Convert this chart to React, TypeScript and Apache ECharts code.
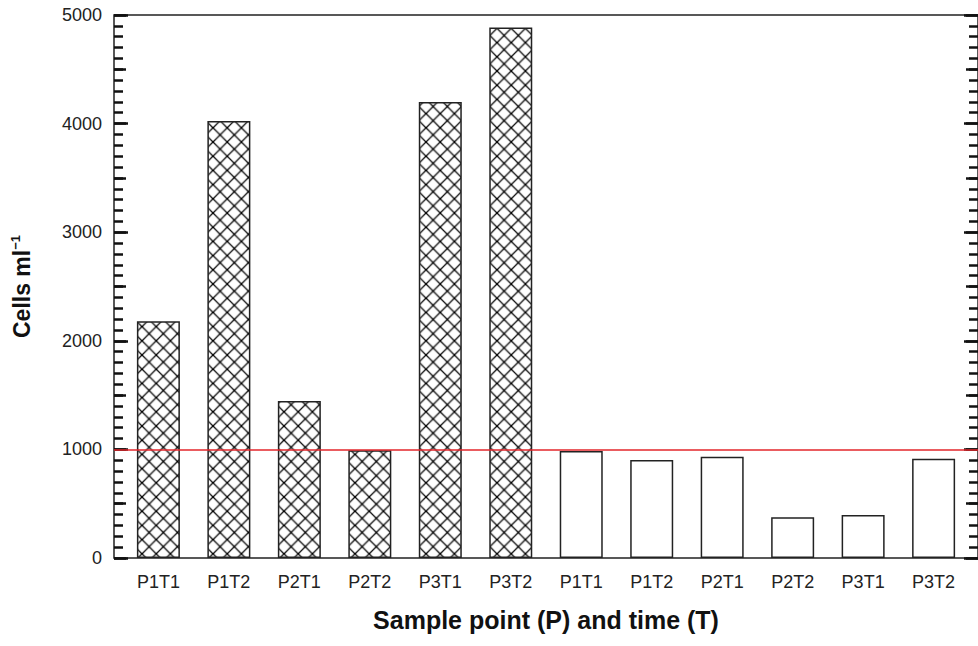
import React, { useEffect, useRef } from 'react';
import * as echarts from 'echarts';

const categories = ['P1T1', 'P1T2', 'P2T1', 'P2T2', 'P3T1', 'P3T2', 'P1T1', 'P1T2', 'P2T1', 'P2T2', 'P3T1', 'P3T2'];
const hatchedValues = [2180, 4025, 1445, 993, 4200, 4885];
const plainValues = [985, 902, 933, 376, 396, 915];
const thresholdValue = 1000;
const yMin = 0;
const yMax = 5000;
const yInterval = 1000;

const FONT = '"Liberation Sans", Arial, Helvetica, sans-serif';

function makeHatch(): string {
  const s = 28;
  const c = document.createElement('canvas');
  c.width = s;
  c.height = s;
  const ctx = c.getContext('2d')!;
  ctx.fillStyle = '#ffffff';
  ctx.fillRect(0, 0, s, s);
  ctx.strokeStyle = '#000000';
  ctx.lineWidth = 2.6;
  ctx.beginPath();
  ctx.moveTo(-2, -2);
  ctx.lineTo(s + 2, s + 2);
  ctx.moveTo(s + 2, -2);
  ctx.lineTo(-2, s + 2);
  ctx.stroke();
  return c.toDataURL();
}

export default function App() {
  const ref = useRef<HTMLDivElement>(null);
  useEffect(() => {
    if (!ref.current) return;
    const chart = echarts.init(ref.current, undefined, { renderer: 'svg' });
    const hatch = { image: makeHatch(), repeat: 'repeat', imageWidth: 14.2, imageHeight: 14.2 } as any;

    const barData: any[] = [];
    hatchedValues.forEach((v, i) => {
      barData.push({ value: [i + 1, v], itemStyle: { color: hatch } });
    });
    plainValues.forEach((v, i) => {
      barData.push({ value: [hatchedValues.length + i + 1, v], itemStyle: { color: '#ffffff' } });
    });

    const tickStyle = { color: '#111', width: 2.5 };
    const yBase = {
      type: 'value',
      min: yMin,
      max: yMax,
      splitLine: { show: false },
      axisLine: { show: false, onZero: false },
    };

    const option: any = {
      animation: false,
      backgroundColor: '#ffffff',
      grid: { left: 114, top: 15, width: 868, height: 543, show: true, borderColor: '#222', borderWidth: 1.5, backgroundColor: 'transparent' },
      xAxis: {
        type: 'value',
        min: 0.37,
        max: 12.63,
        name: 'Sample point (P) and time (T)',
        nameLocation: 'middle',
        nameGap: 49,
        nameTextStyle: { fontFamily: FONT, fontSize: 25, fontWeight: 'bold', color: '#111' },
        axisLine: { show: false, onZero: false },
        axisTick: { show: false },
        splitLine: { show: false },
        axisLabel: {
          customValues: categories.map((_, i) => i + 1),
          formatter: (v: number) => categories[Math.round(v) - 1] ?? '',
          fontFamily: FONT,
          fontSize: 18,
          color: '#222',
          margin: 15,
        },
      },
      yAxis: [
        {
          ...yBase,
          position: 'left',
          interval: yInterval,
          name: '{a|Cells ml}{b|\u22121}',
          nameLocation: 'middle',
          nameGap: 79,
          nameTextStyle: {
            rich: {
              a: { fontFamily: FONT, fontSize: 23, fontWeight: 'bold', color: '#111', lineHeight: 26 },
              b: { fontFamily: FONT, fontSize: 13, fontWeight: 'bold', color: '#111', verticalAlign: 'top' },
            },
          },
          axisTick: { show: true, inside: true, length: 14, lineStyle: tickStyle },
          minorTick: { show: true, splitNumber: 10, length: 9, lineStyle: tickStyle },
          axisLabel: { fontFamily: FONT, fontSize: 18, color: '#222', margin: 12, formatter: (v: number) => String(v) },
        },
        {
          ...yBase,
          position: 'left',
          interval: yInterval / 2,
          axisTick: { show: true, inside: true, length: 12, lineStyle: tickStyle },
          axisLabel: { show: false },
        },
        {
          ...yBase,
          position: 'right',
          interval: yInterval,
          axisTick: { show: true, inside: true, length: 14, lineStyle: tickStyle },
          minorTick: { show: true, splitNumber: 10, length: 9, lineStyle: tickStyle },
          axisLabel: { show: false },
        },
        {
          ...yBase,
          position: 'right',
          interval: yInterval / 2,
          axisTick: { show: true, inside: true, length: 12, lineStyle: tickStyle },
          axisLabel: { show: false },
        },
      ],
      series: [
        {
          type: 'bar',
          xAxisIndex: 0,
          yAxisIndex: 0,
          barWidth: 43,
          data: barData,
          itemStyle: { borderColor: '#222', borderWidth: 1.5 },
          markLine: {
            silent: true,
            symbol: 'none',
            label: { show: false },
            lineStyle: { color: '#e3262b', type: 'solid', width: 1.5 },
            data: [{ yAxis: thresholdValue }],
          },
        },
      ],
    };
    chart.setOption(option);
    return () => chart.dispose();
  }, []);
  return (
    <div
      ref={ref}
      style={{ position: 'fixed', left: 0, top: 0, width: 978, height: 646, background: '#fff' }}
    />
  );
}
